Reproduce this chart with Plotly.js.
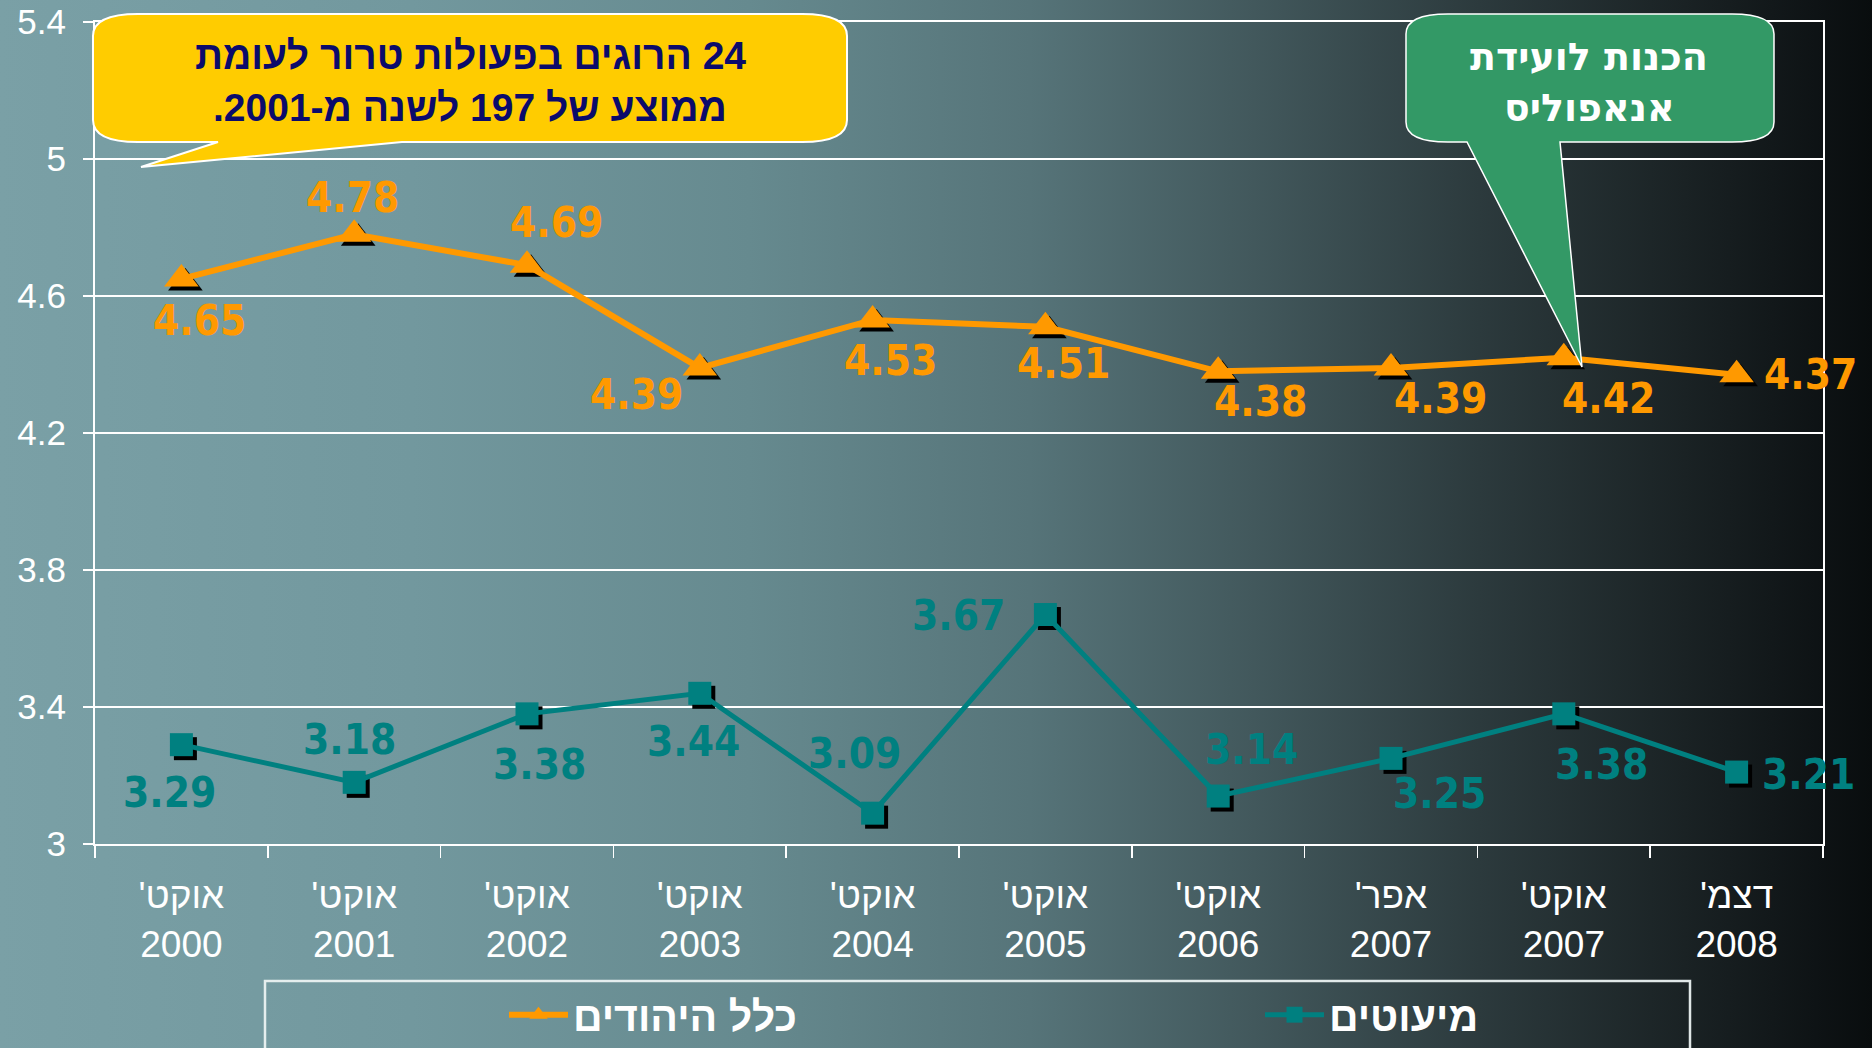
<!DOCTYPE html>
<html>
<head>
<meta charset="utf-8">
<script src="https://cdn.plot.ly/plotly-3.0.1.min.js"></script>
<style>
html, body { margin:0; padding:0; width:1872px; height:1048px; overflow:hidden;
  background: linear-gradient(to right, rgb(122,160,166) 0%, rgb(114,152,158) 22%, rgb(102,138,143) 40%, rgb(86,116,121) 55%, rgb(66,88,92) 67%, rgb(44,58,61) 79%, rgb(26,34,36) 90%, rgb(14,19,21) 97%, rgb(9,13,14) 100%); }
#chart { width:1872px; height:1048px; }
</style>
</head>
<body>
<div id="chart"></div>
<script>
// ---- data ----
const months = ["אוקט'", "אוקט'", "אוקט'", "אוקט'", "אוקט'", "אוקט'", "אוקט'", "אפר'", "אוקט'", "דצמ'"];
const years = ["2000", "2001", "2002", "2003", "2004", "2005", "2006", "2007", "2007", "2008"];
const jewsValues = [4.65, 4.78, 4.69, 4.39, 4.53, 4.51, 4.38, 4.39, 4.42, 4.37];
const minoritiesValues = [3.29, 3.18, 3.38, 3.44, 3.09, 3.67, 3.14, 3.25, 3.38, 3.21];
const seriesNames = ["כלל היהודים", "מיעוטים"];
const yellowNote = ["24 הרוגים בפעולות טרור לעומת", "ממוצע של 197 לשנה מ-2001."];
const greenNote = ["הכנות לועידת", "אנאפוליס"];

// ---- styles / positions ----
const W = 1872, H = 1048;
const M = { l: 95, r: 49, t: 22, b: 204, autoexpand: false };
const PW = W - M.l - M.r, PH = H - M.t - M.b;
const YR = [3, 5.4];
const RLE = "\u202B", PDF = "\u202C";
const categories = months.map((m, i) => RLE + m + PDF + "<br>" + years[i]);
const px2x = px => (px - M.l) / PW;
const py2y = py => (H - M.b - py) / PH;

const ORANGE = "#FF9900", TEAL = "#008080";
const labelFont = "DejaVu Sans Condensed, DejaVu Sans, sans-serif";
const jewsOffsets = [[18,42],[-2,-37],[29,-43],[-63,27],[18,41],[18,37],[42,30],[49,31],[45,41],[74,0]];
const minOffsets = [[-12,48],[-5,-43],[12,51],[-6,48],[-18,-60],[-87,1],[33,-47],[48,35],[38,51],[72,2]];

const shadowPx = 4;
const dx = shadowPx / (PW / categories.length);
const dy = shadowPx / (PH / (YR[1] - YR[0]));

// base subplot (x,y): hidden, shifted -> drop shadows; overlay (x2,y2): visible axes + series
const traces = [
  { x: categories, y: jewsValues, xaxis: "x", yaxis: "y", mode: "markers", showlegend: false, hoverinfo: "skip",
    marker: { symbol: "triangle-up", size: 30, color: "#000" } },
  { x: categories, y: minoritiesValues, xaxis: "x", yaxis: "y", mode: "markers", showlegend: false, hoverinfo: "skip",
    marker: { symbol: "square", size: 23, color: "#000" } },
  { x: categories, y: jewsValues, xaxis: "x2", yaxis: "y2", mode: "lines+markers", name: seriesNames[0], legend: "legend",
    line: { color: ORANGE, width: 6 }, marker: { symbol: "triangle-up", size: 30, color: ORANGE } },
  { x: categories, y: minoritiesValues, xaxis: "x2", yaxis: "y2", mode: "lines+markers", name: seriesNames[1], legend: "legend2",
    line: { color: TEAL, width: 5 }, marker: { symbol: "square", size: 23, color: TEAL } }
];

const annotations = [];
function addLabels(vals, offs, color) {
  vals.forEach((v, i) => {
    annotations.push({ x: categories[i], y: v, xref: "x2", yref: "y2", showarrow: false,
      text: v.toFixed(2), xshift: offs[i][0], yshift: -offs[i][1],
      font: { family: labelFont, size: 42, color: color, weight: 700 } });
  });
}
addLabels(jewsValues, jewsOffsets, ORANGE);
addLabels(minoritiesValues, minOffsets, TEAL);

const yellowY = [56, 107];
yellowNote.forEach((t, i) => annotations.push({ xref: "paper", yref: "paper", x: px2x(470), y: py2y(yellowY[i]),
  text: RLE + t + PDF, showarrow: false, xanchor: "center", yanchor: "middle",
  font: { family: "Liberation Sans, Arial, sans-serif", size: 39, color: "#0b0b6b", weight: 700 } }));
const greenY = [57, 108];
greenNote.forEach((t, i) => annotations.push({ xref: "paper", yref: "paper", x: px2x(1589), y: py2y(greenY[i]),
  text: RLE + t + PDF, showarrow: false, xanchor: "center", yanchor: "middle",
  font: { family: "DejaVu Sans, sans-serif", size: 38, color: "#ffffff", weight: 700 } }));

function callout(L, R, T, B, rx, ry, baseA, baseB, tip) {
  const P = (x, y) => px2x(x).toFixed(5) + "," + py2y(y).toFixed(5);
  return "M" + P(L + rx, T) + " L" + P(R - rx, T) + " Q" + P(R, T) + " " + P(R, T + ry) +
    " L" + P(R, B - ry) + " Q" + P(R, B) + " " + P(R - rx, B) +
    " L" + P(baseB, B) + " L" + P(tip[0], tip[1]) + " L" + P(baseA, B) +
    " L" + P(L + rx, B) + " Q" + P(L, B) + " " + P(L, B - ry) +
    " L" + P(L, T + ry) + " Q" + P(L, T) + " " + P(L + rx, T) + " Z";
}

const shapes = [
  { type: "path", xref: "paper", yref: "paper", layer: "above",
    path: callout(93, 847, 14, 142, 45, 22, 218, 402, [141, 167]),
    fillcolor: "#FFCC00", line: { color: "#ffffff", width: 2 } },
  { type: "path", xref: "paper", yref: "paper", layer: "above",
    path: callout(1406, 1774, 14, 142, 42, 20, 1467, 1560, [1582, 367]),
    fillcolor: "#339966", line: { color: "#ffffff", width: 1.5 } },
  { type: "rect", xref: "paper", yref: "paper", x0: px2x(265), x1: px2x(1690), y0: py2y(981), y1: py2y(1075),
    fillcolor: "rgba(0,0,0,0)", line: { color: "rgba(235,242,242,0.95)", width: 2.5 } }
];

const tickFont = { family: "Liberation Sans, Arial, sans-serif", size: 35, color: "#ffffff" };
const xTickFont = { family: "Liberation Sans, Arial, sans-serif", size: 37, color: "#ffffff" };
const legendFont = { family: "Liberation Sans, Arial, sans-serif", size: 41, color: "#ffffff", weight: 700 };

const layout = {
  width: W, height: H, margin: M,
  paper_bgcolor: "rgba(0,0,0,0)", plot_bgcolor: "rgba(0,0,0,0)",
  showlegend: true,
  xaxis: { type: "category", categoryorder: "array", categoryarray: categories, visible: false,
    range: [-0.5 - dx, categories.length - 0.5 - dx], fixedrange: true },
  yaxis: { visible: false, range: [YR[0] + dy, YR[1] + dy], fixedrange: true },
  xaxis2: { type: "category", categoryorder: "array", categoryarray: categories, overlaying: "x", anchor: "y2", side: "bottom",
    range: [-0.5, categories.length - 0.5],
    showline: true, linecolor: "#ffffff", linewidth: 2, mirror: true, showgrid: false, zeroline: false,
    ticks: "outside", tickson: "boundaries", ticklen: 12, tickcolor: "#ffffff", tickwidth: 1.5,
    tickfont: xTickFont, ticklabelstandoff: 18, fixedrange: true, automargin: false },
  yaxis2: { overlaying: "y", anchor: "x2", side: "left", range: YR, tick0: 3, dtick: 0.4,
    showline: true, linecolor: "#ffffff", linewidth: 2, mirror: true,
    showgrid: true, gridcolor: "#ffffff", gridwidth: 2, zeroline: false,
    ticks: "outside", ticklen: 10, tickcolor: "#ffffff", tickwidth: 1.5, tickfont: tickFont, ticklabelstandoff: 10,
    fixedrange: true, automargin: false },
  legend: { x: px2x(504), y: py2y(1015), xanchor: "left", yanchor: "middle", orientation: "h",
    bgcolor: "rgba(0,0,0,0)", borderwidth: 0, font: legendFont, itemwidth: 59 },
  legend2: { x: px2x(1260), y: py2y(1015), xanchor: "left", yanchor: "middle", orientation: "h",
    bgcolor: "rgba(0,0,0,0)", borderwidth: 0, font: legendFont, itemwidth: 59 },
  annotations: annotations,
  shapes: shapes
};

Plotly.newPlot("chart", traces, layout, { displayModeBar: false, staticPlot: true });
</script>
</body>
</html>
